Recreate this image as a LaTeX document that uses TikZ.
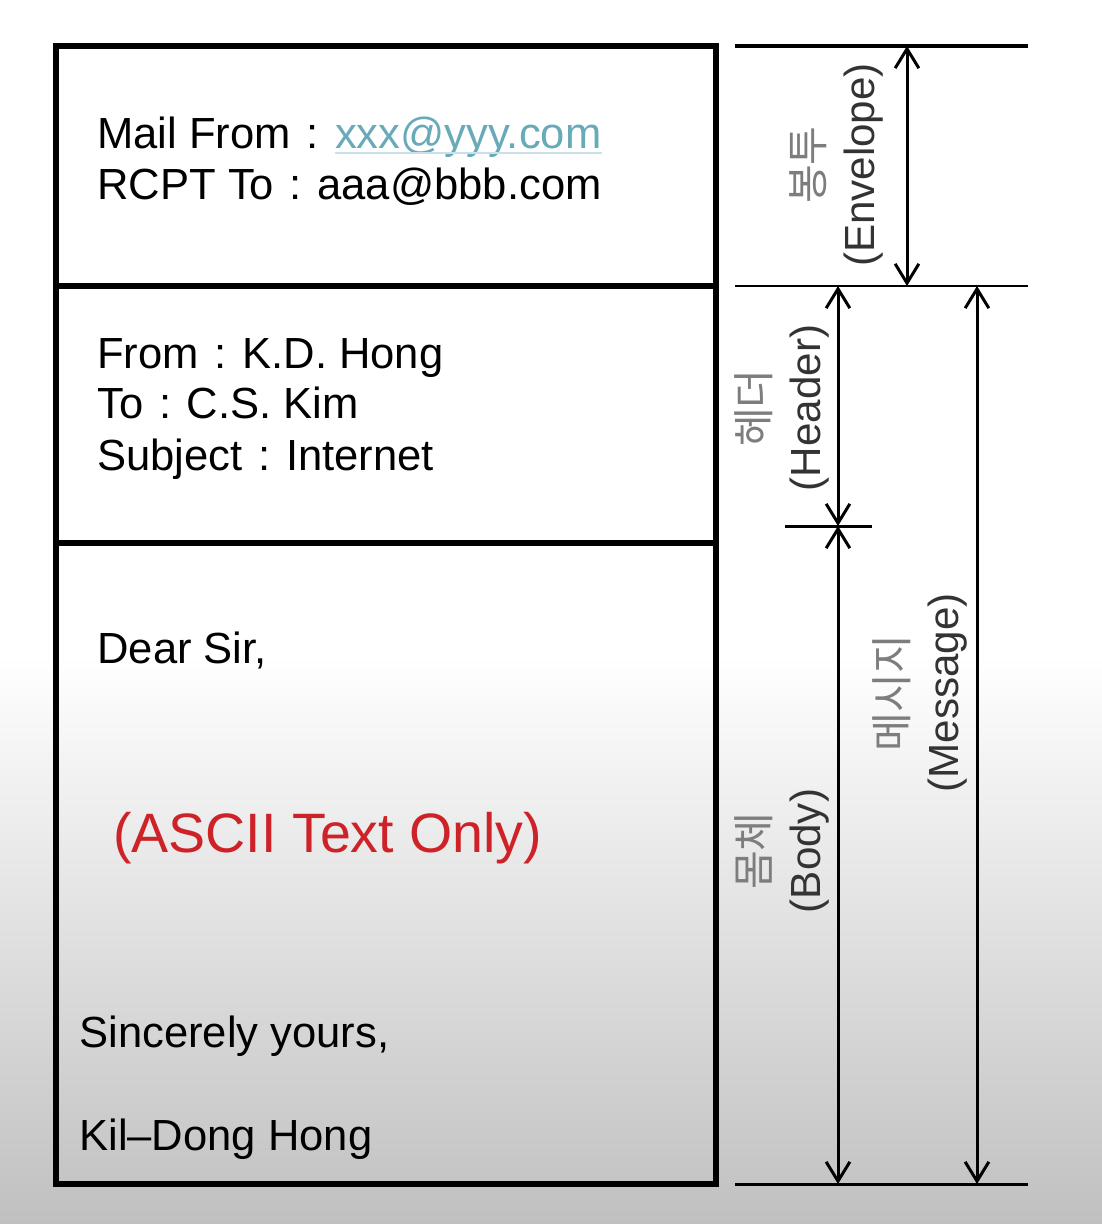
\documentclass[tikz,border=0pt]{standalone}
\usepackage{fontspec}
\setmainfont{Liberation Sans}
\newfontfamily\kofont{Noto Sans CJK KR}
\usetikzlibrary{arrows.meta}

\definecolor{linkblue}{RGB}{105,170,185}
\definecolor{asciired}{RGB}{205,35,40}
\definecolor{bggray}{RGB}{192,192,192}
\definecolor{kogray}{RGB}{125,125,125}
\newcommand\sep{\kern0.36em:\kern0.36em}

\begin{document}
\begin{tikzpicture}[x=0.02cm,y=-0.02cm,
  txt/.style={anchor=base west,inner sep=0pt,font=\fontsize{24.8}{29}\selectfont},
  dimline/.style={line width=1.7pt},
  dimarrow/.style={line width=1.7pt,{Straight Barb[length=11pt,width=13.5pt]}-{Straight Barb[length=11pt,width=13.5pt]}},
  lbl/.style={rotate=90,align=center,inner sep=0pt,font=\fontsize{24}{29}\selectfont,text=black!80}]
\useasboundingbox (0,0) rectangle (1102,1224);
% background
\fill[white] (0,0) rectangle (1102,660);
\shade[top color=white,bottom color=bggray] (0,655) rectangle (1102,1224);

% the mail
\draw[line width=3.7pt] (56,46) rectangle (716,1184);
\draw[line width=3.7pt] (56,286) -- (716,286);
\draw[line width=3.7pt] (56,543) -- (716,543);

\node[txt] (mailfrom) at (97,148) {Mail From\sep};
\node[txt,text=linkblue] (mailaddr) at (mailfrom.base east) {xxx@yyy.com};
\draw[linkblue!35,line width=1pt] ([yshift=-3pt]mailaddr.base west) -- ([yshift=-3pt]mailaddr.base east);
\node[txt] (rcptto) at (97,199) {RCPT To\sep aaa@bbb.com};

\node[txt] (hfrom) at (97,368) {From\sep K.D. Hong};
\node[txt] (hto) at (97,418) {To\sep C.S. Kim};
\node[txt] (hsubj) at (97,470) {Subject\sep Internet};

\node[txt] (dear) at (97,663) {Dear Sir,};
\node[txt,text=asciired,font=\fontsize{31.6}{36}\selectfont] (ascii) at (113,852) {(ASCII Text Only)};
\node[txt] (sincere) at (79,1047) {Sincerely yours,};
\node[txt] (sender) at (79,1150) {Kil–Dong Hong};

% dimension lines
\coordinate (envL) at (735,46);
\coordinate (envR) at (1028,46);
\coordinate (msgL) at (735,286);
\coordinate (msgR) at (1028,286);
\coordinate (botL) at (735,1184);
\coordinate (botR) at (1028,1184);
\coordinate (tickL) at (785,526);
\coordinate (tickR) at (872,526);
\draw[line width=2.2pt] (envL) -- (envR);
\draw[dimline] (msgL) -- (msgR);
\draw[dimline] (botL) -- (botR);
\draw[dimline] (tickL) -- (tickR);

\coordinate (envA) at (907,46);
\coordinate (envB) at (907,286);
\coordinate (hdrA) at (838,286);
\coordinate (hdrB) at (838,526);
\coordinate (bodyB) at (838,1184);
\coordinate (msgA) at (977,286);
\coordinate (msgB) at (977,1184);
\draw[dimarrow] (envA) -- (envB);
\draw[dimarrow] (hdrA) -- (hdrB);
\draw[dimarrow] (hdrB) -- (bodyB);
\draw[dimarrow] (msgA) -- (msgB);

\node[lbl] (envlbl) at (836,165) {{\kofont\color{kogray}봉투}\\(Envelope)};
\node[lbl] (hdrlbl) at (782,408) {{\kofont\color{kogray}헤더}\\(Header)};
\node[lbl] (bodylbl) at (782,851) {{\kofont\color{kogray}몸체}\\(Body)};
\node[lbl] (msglbl) at (920,693) {{\kofont\color{kogray}메시지}\\(Message)};
\end{tikzpicture}
\end{document}
